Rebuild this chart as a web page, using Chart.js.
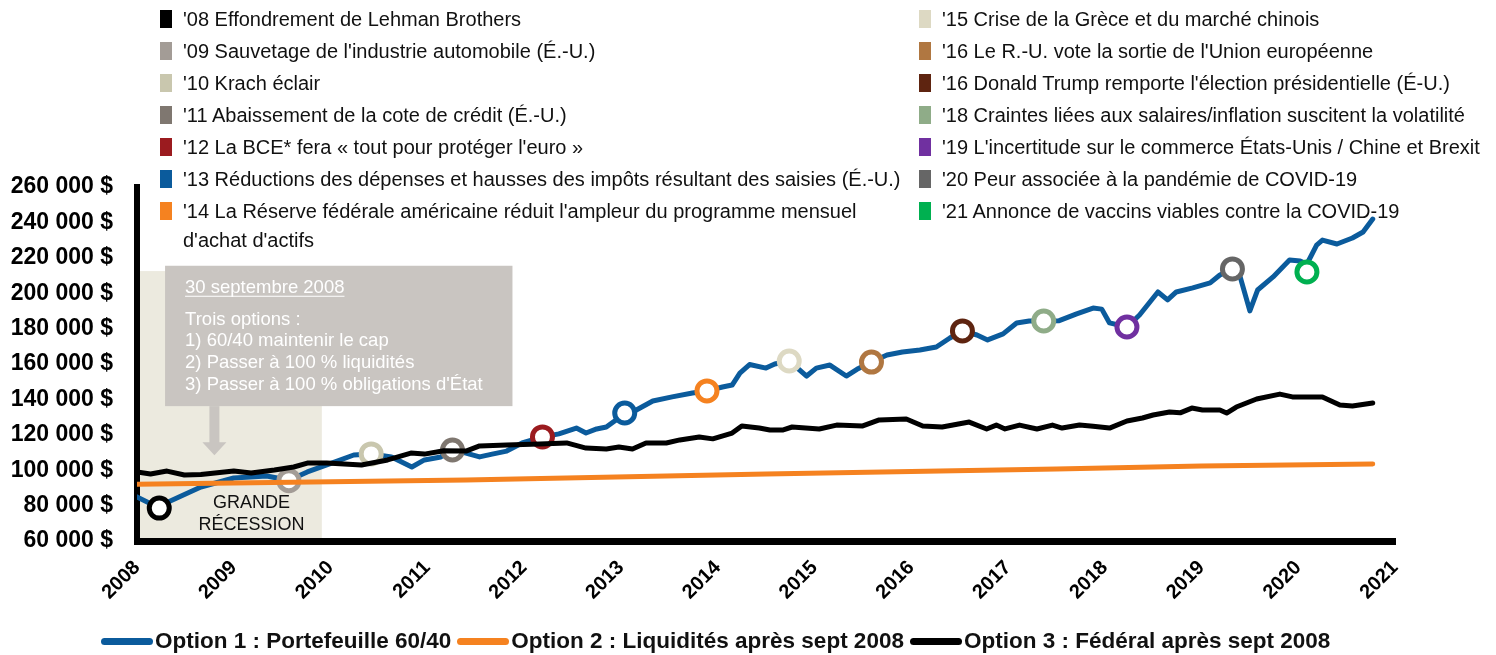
<!DOCTYPE html>
<html>
<head>
<meta charset="utf-8">
<title>Options après sept 2008</title>
<script src="https://cdn.jsdelivr.net/npm/chart.js@4.4.1/dist/chart.umd.min.js"></script>
<style>
  body { margin: 0; background: #fff; font-family: "Liberation Sans", Arial, sans-serif; }
  #wrap { position: relative; width: 1496px; height: 655px; overflow: hidden; }
  #chart { position: absolute; left: 0; top: 0; }
  .ev { position: absolute; font-size: 20px; line-height: 29px; color: #111; white-space: nowrap; }
  .ev i { position: absolute; left: -23px; top: 5px; width: 12px; height: 18px; }
  #bottom { position: absolute; left: 101px; top: 628px; display: flex; align-items: center;
            font-weight: bold; font-size: 22.5px; color: #111; white-space: nowrap; }
  #bottom .sw { display: inline-block; width: 52px; height: 7px; border-radius: 4px; margin: 0 2px 0 6px; }
  #bottom .sw:first-child { margin-left: 0; }
</style>
</head>
<body>
<div id="wrap">
  <canvas id="chart" width="1496" height="655"></canvas>
  <div id="events"></div>
  <div id="bottom"></div>
</div>
<script>
// Series names and colours
const seriesNames = ['Option 1 : Portefeuille 60/40', 'Option 2 : Liquidités après sept 2008', 'Option 3 : Fédéral après sept 2008'];
const seriesColors = ['#0B5B9C', '#F58220', '#000000'];

// Option 1 : 60/40 portfolio (date as decimal year, value in $)
const option1Dates = [2008.00, 2008.23, 2008.31, 2008.66, 2009.00, 2009.34, 2009.57, 2009.76, 2010.04, 2010.24,
  2010.42, 2010.63, 2010.84, 2010.97, 2011.14, 2011.26, 2011.40, 2011.54, 2011.67, 2011.82,
  2011.98, 2012.19, 2012.36, 2012.54, 2012.64, 2012.75, 2012.85, 2012.95, 2013.04, 2013.16,
  2013.33, 2013.53, 2013.74, 2013.89, 2014.05, 2014.15, 2014.23, 2014.33, 2014.50, 2014.59,
  2014.74, 2014.92, 2015.02, 2015.16, 2015.33, 2015.44, 2015.59, 2015.75, 2015.91, 2016.09,
  2016.26, 2016.40, 2016.53, 2016.68, 2016.79, 2016.95, 2017.09, 2017.22, 2017.37, 2017.53,
  2017.71, 2017.88, 2017.97, 2018.05, 2018.23, 2018.36, 2018.55, 2018.65, 2018.74, 2018.91,
  2019.09, 2019.19, 2019.32, 2019.40, 2019.50, 2019.58, 2019.74, 2019.91, 2020.02, 2020.09,
  2020.19, 2020.25, 2020.40, 2020.56, 2020.67, 2020.77];
const option1Values = [84900, 78600, 81800, 90500, 95600, 96700, 94300, 99000, 104600, 108600,
  109200, 107500, 101800, 105800, 107500, 111400, 109700, 107500, 109100, 110800,
  115400, 118800, 120500, 123800, 121000, 123300, 124400, 128400, 132300, 134000,
  139100, 141400, 143600, 144800, 147000, 148100, 154900, 159700, 157700, 160000,
  161700, 153200, 157700, 159400, 153200, 157000, 161100, 165100, 166800, 167900,
  169600, 174700, 178700, 176400, 173600, 177000, 183200, 184300, 184300, 184500,
  188300, 191600, 191000, 183200, 180900, 187700, 200700, 196200, 200700, 203000,
  205800, 210300, 213700, 209200, 190000, 201800, 209200, 218800, 218200, 216500,
  227200, 230000, 227800, 231200, 234600, 241900];

// Option 2 : cash after Sept 2008
const option2Dates = [2008.00, 2011.40, 2014.50, 2017.50, 2019.00, 2020.77];
const option2Values = [92000, 94500, 97900, 100700, 102400, 103500];

// Option 3 : federal bonds after Sept 2008
const option3Dates = [2008.00, 2008.14, 2008.31, 2008.49, 2008.66, 2009.00, 2009.18, 2009.42, 2009.62, 2009.76,
  2009.96, 2010.32, 2010.59, 2010.83, 2010.97, 2011.17, 2011.40, 2011.54, 2011.82, 2012.16,
  2012.44, 2012.64, 2012.85, 2012.98, 2013.12, 2013.26, 2013.47, 2013.61, 2013.81, 2013.95,
  2014.15, 2014.25, 2014.43, 2014.54, 2014.67, 2014.77, 2015.05, 2015.23, 2015.50, 2015.67,
  2015.95, 2016.12, 2016.32, 2016.60, 2016.78, 2016.88, 2016.97, 2017.12, 2017.30, 2017.46,
  2017.56, 2017.74, 2017.88, 2018.05, 2018.23, 2018.39, 2018.50, 2018.67, 2018.78, 2018.90,
  2019.01, 2019.19, 2019.26, 2019.36, 2019.57, 2019.81, 2019.94, 2020.09, 2020.25, 2020.43,
  2020.56, 2020.77];
const option3Values = [99000, 97900, 99500, 97300, 97600, 99500, 98400, 100100, 101800, 104000,
  104000, 102900, 105800, 109700, 109100, 111000, 110800, 113700, 114200, 114800,
  115400, 112500, 112000, 113100, 112000, 115400, 115400, 117100, 118800, 117700,
  121000, 125000, 123800, 122700, 122700, 124400, 123300, 125500, 125000, 128400,
  128900, 125000, 124400, 127200, 123300, 125500, 123300, 125500, 123300, 125500,
  123800, 125500, 124800, 123800, 127800, 129500, 131200, 132900, 132400, 135100,
  134000, 134000, 132300, 135700, 140200, 143000, 141400, 141400, 141400, 136800,
  136300, 138000];

// Market events, shown as rings on the 60/40 line
const eventLabels = [
  "'08 Effondrement de Lehman Brothers",
  "'09 Sauvetage de l'industrie automobile (É.-U.)",
  "'10 Krach éclair",
  "'11 Abaissement de la cote de crédit (É.-U.)",
  "'12 La BCE* fera « tout pour protéger l'euro »",
  "'13 Réductions des dépenses et hausses des impôts résultant des saisies (É.-U.)",
  "'14 La Réserve fédérale américaine réduit l'ampleur du programme mensuel\nd'achat d'actifs",
  "'15 Crise de la Grèce et du marché chinois",
  "'16 Le R.-U. vote la sortie de l'Union européenne",
  "'16 Donald Trump remporte l'élection présidentielle (É-U.)",
  "'18 Craintes liées aux salaires/inflation suscitent la volatilité",
  "'19 L'incertitude sur le commerce États-Unis / Chine et Brexit",
  "'20 Peur associée à la pandémie de COVID-19",
  "'21 Annonce de vaccins viables contre la COVID-19"
];
const eventColors = ['#000000', '#A39C96', '#C9C7AE', '#7F7770', '#9B1B1F', '#0B5B9C', '#F58220',
  '#DDD9C3', '#B07741', '#5E2410', '#8FAC88', '#7030A0', '#666666', '#00B050'];
const eventDates = [2008.23, 2009.57, 2010.42, 2011.26, 2012.19, 2013.04, 2013.89,
  2014.74, 2015.59, 2016.53, 2017.37, 2018.23, 2019.32, 2020.09];
const eventValues = [78600, 94100, 109200, 111400, 118800, 132300, 144800,
  161700, 161100, 178700, 184300, 180900, 213700, 212000];

// Axis range and ticks
const yearMin = 2008, yearMax = 2021;
const valueMin = 60000, valueMax = 260000, valueStep = 20000;

// Great Recession shading and the call-out box
const recessionStart = 2008.0, recessionEnd = 2009.91, recessionTop = 212500;
const noteTitle = '30 septembre 2008';
const noteLines = ['Trois options :', '1) 60/40 maintenir le cap', '2) Passer à 100 % liquidités', '3) Passer à 100 % obligations d\'État'];

const FONT = '"Liberation Sans", Arial, sans-serif';

function toPoints(dates, values) {
  return dates.map((d, i) => ({ x: d, y: values[i] }));
}

// Legend of events at the top, two columns
const eventsBox = document.getElementById('events');
eventLabels.forEach((label, i) => {
  const col = i < 7 ? 0 : 1;
  const row = i % 7;
  const div = document.createElement('div');
  div.className = 'ev';
  div.style.left = (col === 0 ? 183 : 942) + 'px';
  div.style.top = (4.5 + row * 32) + 'px';
  const sq = document.createElement('i');
  sq.style.background = eventColors[i];
  div.appendChild(sq);
  label.split('\n').forEach((part, k) => {
    if (k > 0) div.appendChild(document.createElement('br'));
    div.appendChild(document.createTextNode(part));
  });
  eventsBox.appendChild(div);
});

// Legend of the three options at the bottom
const bottom = document.getElementById('bottom');
seriesNames.forEach((name, i) => {
  const sw = document.createElement('span');
  sw.className = 'sw';
  sw.style.background = seriesColors[i];
  const txt = document.createElement('span');
  txt.textContent = name;
  bottom.appendChild(sw);
  bottom.appendChild(txt);
});

// Draws the recession band, its label and the call-out box under the axes and lines
const notesPlugin = {
  id: 'notes',
  beforeDraw(chart) {
    const { ctx, chartArea, scales: { x, y } } = chart;
    ctx.save();

    const bl = x.getPixelForValue(recessionStart);
    const br = x.getPixelForValue(recessionEnd);
    const bt = y.getPixelForValue(recessionTop);
    ctx.fillStyle = '#ECEADF';
    ctx.fillRect(bl, bt, br - bl, chartArea.bottom - bt);

    ctx.fillStyle = '#111';
    ctx.font = '18px ' + FONT;
    ctx.textAlign = 'center';
    ctx.textBaseline = 'middle';
    const cx = (bl + br) / 2 + 22;
    ctx.fillText('GRANDE', cx, chartArea.bottom - 38);
    ctx.fillText('RÉCESSION', cx, chartArea.bottom - 16);

    // call-out box
    const left = x.getPixelForValue(2008.29), right = x.getPixelForValue(2011.88);
    const top = y.getPixelForValue(215500), boxBottom = y.getPixelForValue(136200);
    ctx.fillStyle = '#C9C5C1';
    ctx.fillRect(left, top, right - left, boxBottom - top);

    // arrow down to the recession
    const ax = x.getPixelForValue(2008.80);
    const tip = y.getPixelForValue(108500);
    ctx.fillRect(ax - 5, boxBottom, 10, tip - boxBottom - 12);
    ctx.beginPath();
    ctx.moveTo(ax - 12, tip - 13);
    ctx.lineTo(ax + 12, tip - 13);
    ctx.lineTo(ax, tip);
    ctx.closePath();
    ctx.fill();

    ctx.fillStyle = '#fff';
    ctx.strokeStyle = '#fff';
    ctx.font = '18.5px ' + FONT;
    ctx.textAlign = 'left';
    ctx.textBaseline = 'alphabetic';
    const tx = left + 20;
    ctx.fillText(noteTitle, tx, top + 27);
    const tw = ctx.measureText(noteTitle).width;
    ctx.lineWidth = 1.2;
    ctx.beginPath();
    ctx.moveTo(tx, top + 30.5);
    ctx.lineTo(tx + tw, top + 30.5);
    ctx.stroke();
    noteLines.forEach((line, i) => {
      ctx.fillText(line, tx, top + 59 + i * 21.7);
    });
    ctx.restore();
  }
};

new Chart(document.getElementById('chart'), {
  type: 'line',
  data: {
    datasets: [
      {
        label: seriesNames[2],
        data: toPoints(option3Dates, option3Values),
        borderColor: seriesColors[2],
        borderWidth: 5,
        pointRadius: 0,
        borderJoinStyle: 'round',
        borderCapStyle: 'round',
        order: 0
      },
      {
        label: seriesNames[1],
        data: toPoints(option2Dates, option2Values),
        borderColor: seriesColors[1],
        borderWidth: 5,
        pointRadius: 0,
        borderCapStyle: 'round',
        order: 1
      },
      {
        label: 'events',
        type: 'scatter',
        data: toPoints(eventDates, eventValues),
        pointStyle: 'circle',
        pointRadius: 10,
        pointHoverRadius: 10,
        pointBorderWidth: 5,
        pointBackgroundColor: '#fff',
        pointBorderColor: eventColors,
        order: 2
      },
      {
        label: seriesNames[0],
        data: toPoints(option1Dates, option1Values),
        borderColor: seriesColors[0],
        borderWidth: 5,
        pointRadius: 0,
        borderJoinStyle: 'round',
        borderCapStyle: 'round',
        order: 3
      }
    ]
  },
  options: {
    responsive: false,
    animation: false,
    layout: { padding: { left: 0, top: 187, right: 101, bottom: 0 } },
    plugins: {
      legend: { display: false },
      tooltip: { enabled: false }
    },
    scales: {
      x: {
        type: 'linear',
        min: yearMin,
        max: yearMax,
        afterFit(scale) { scale.height = 114; },
        grid: { display: false, drawTicks: false },
        border: { display: true, color: '#000', width: 7 },
        ticks: {
          stepSize: 1,
          autoSkip: false,
          minRotation: 45,
          maxRotation: 45,
          padding: 15,
          color: '#000',
          font: { family: FONT, size: 20, weight: 'bold' },
          callback: (v) => String(v)
        }
      },
      y: {
        min: valueMin,
        max: valueMax,
        afterFit(scale) { scale.width = 137; },
        grid: { display: false, drawTicks: false },
        border: { display: true, color: '#000', width: 6 },
        ticks: {
          stepSize: valueStep,
          padding: 24,
          color: '#000',
          font: { family: FONT, size: 23, weight: 'bold' },
          callback: (v) => (v / 1000) + ' 000 $'
        }
      }
    }
  },
  plugins: [notesPlugin]
});
</script>
</body>
</html>
